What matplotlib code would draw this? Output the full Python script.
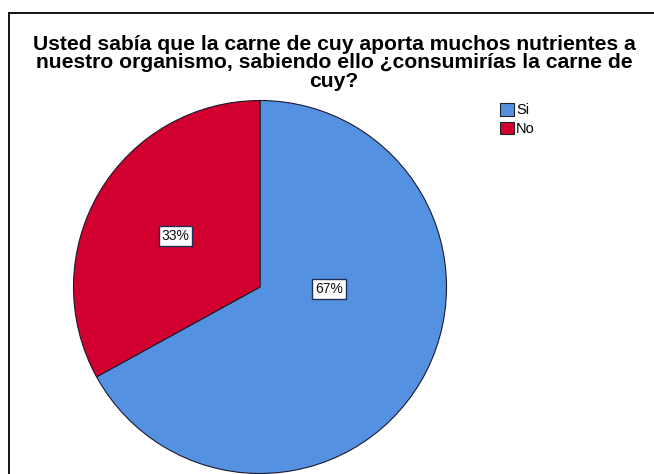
import matplotlib
matplotlib.use("Agg")
import matplotlib.pyplot as plt
from matplotlib.lines import Line2D
from matplotlib.patches import Patch
import numpy as np

plt.rcParams['font.family'] = ['Liberation Sans', 'DejaVu Sans']

categories = ["Si", "No"]
percentages = [67, 33]
colors = ["#5591e1", "#d2002e"]
title = ("Usted sabía que la carne de cuy aporta muchos nutrientes a\n"
         "nuestro organismo, sabiendo ello ¿consumirías la carne de\n"
         "cuy?")

W, H = 654, 474
fig = plt.figure(figsize=(W / 100, H / 100), dpi=100)
fig.patch.set_facecolor("white")

# outer chart frame (left and top edges visible)
fig.add_artist(Line2D([8.5 / W, 8.5 / W], [0, 1 - 12.5 / H], color="black", lw=1.3,
                      transform=fig.transFigure))
fig.add_artist(Line2D([8.5 / W, 1], [1 - 12.5 / H, 1 - 12.5 / H], color="black", lw=1.3,
                      transform=fig.transFigure))

# title, sized so its widest line spans the chart's header width
title_txt = fig.text(334 / W, 1 - 63 / H, title, ha="center", va="center", fontsize=12,
                     fontweight="bold", linespacing=0.9)
renderer = fig.canvas.get_renderer()
w = title_txt.get_window_extent(renderer).width
title_txt.set_fontsize(12 * 600 / w)
title_txt.set_linespacing(0.99)

cx, cy, R = 260, 287, 186.5
ax = fig.add_axes([(cx - R) / W, (H - cy - R) / H, 2 * R / W, 2 * R / H])
wedges, _ = ax.pie(percentages, colors=colors, startangle=90, counterclock=False,
                   radius=1, wedgeprops=dict(edgecolor="#1a1a2e", linewidth=0.8))
ax.set_xlim(-1, 1)
ax.set_ylim(-1, 1)
ax.set_aspect("equal")
ax.axis("off")

# percentage labels: radial distance and angle for each slice
label_pos = {"Si": (0.37, -1.7), "No": (0.53, 149.0)}
for cat, pct in zip(categories, percentages):
    r, ang = label_pos[cat]
    a = np.deg2rad(ang)
    ax.text(r * np.cos(a), r * np.sin(a), f"{pct}%", ha="center", va="center",
            fontsize=10, color="#111111",
            bbox=dict(boxstyle="square,pad=0.2", facecolor="white",
                      edgecolor="#1f2f5a", linewidth=1.0))

handles = [Patch(facecolor=c, edgecolor="#222222", linewidth=0.8) for c in colors]
fig.legend(handles, categories, loc="upper left", bbox_to_anchor=(500 / W, 1 - 103 / H),
           frameon=False, fontsize=10.5, handlelength=0.95, handleheight=0.95,
           handletextpad=0.15, labelspacing=0.3, borderpad=0, borderaxespad=0)

fig.savefig("out.png", dpi=100)
